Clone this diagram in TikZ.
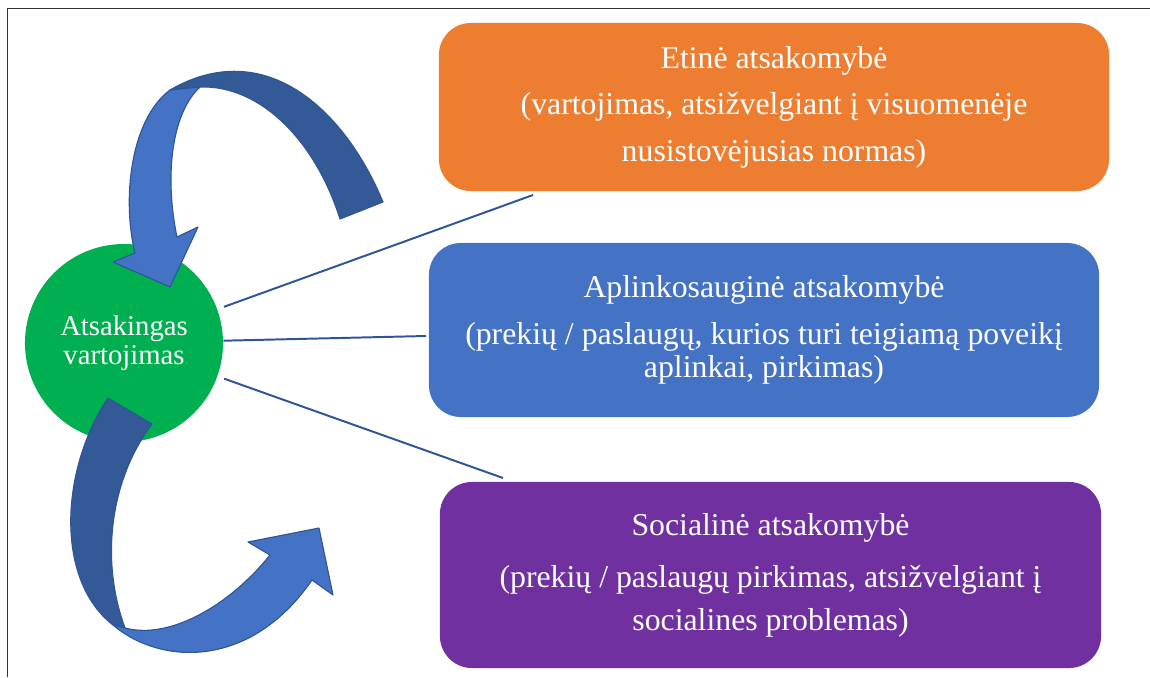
\documentclass[tikz,border=0pt]{standalone}
\usepackage{fontspec}
\setmainfont{Liberation Serif}
\definecolor{orng}{HTML}{ED7D31}
\definecolor{blu}{HTML}{4472C4}
\definecolor{purp}{HTML}{7030A0}
\definecolor{grn}{HTML}{00B050}
\definecolor{dblu}{HTML}{2F5597}
\definecolor{rearblu}{HTML}{335A96}
\begin{document}
\begin{tikzpicture}[x=0.025cm, y=-0.025cm,
    box/.style={rounded corners=0.8cm, text=white, align=center, inner sep=0pt,
      font=\fontsize{22.6}{33}\selectfont},
    link/.style={dblu, line width=1.4pt},
    front/.style={fill=blu, draw=dblu, line width=0.8pt, line join=round},
    rear/.style={fill=rearblu, draw=dblu, line width=0.8pt, line join=round}]
  \useasboundingbox (0,0) rectangle (1150,677);
  \draw[black!80, line width=0.6pt] (7,677) -- (7,8) -- (1150,8);

  \node (eth) [box, fill=orng, minimum width=16.75cm, minimum height=4.2cm] at (774,107)
    {Etinė atsakomybė\\(vartojimas, atsižvelgiant į visuomenėje\\nusistovėjusias normas)};
  \node (env) [box, fill=blu, minimum width=16.75cm, minimum height=4.35cm] at (764,330)
    {Aplinkosauginė atsakomybė\\(prekių / paslaugų, kurios turi teigiamą poveikį\\[-9.5pt]aplinkai, pirkimas)};
  \node (soc) [box, fill=purp, minimum width=16.525cm, minimum height=4.65cm] at (770.5,575)
    {Socialinė atsakomybė\\[4pt](prekių / paslaugų pirkimas, atsižvelgiant į\\[-2.4pt]socialines problemas)};
  \node (resp) [circle, fill=grn, minimum size=4.95cm, inner sep=0pt, text=white, align=center,
    font=\fontsize{20.4}{21}\selectfont] at (124,343) {Atsakingas\\vartojimas};

  \coordinate (e1) at (533,195);
  \coordinate (e2) at (426,336);
  \coordinate (e3) at (503,478);
  \draw[link, shorten <=5pt] (resp) -- (e1);
  \draw[link] (resp) -- (e2);
  \draw[link, shorten <=5pt] (resp) -- (e3);

  \filldraw[rear] (340,219) -- (383,202) .. controls (345,110) and (265,35) .. (170,90)
    -- (200,87) .. controls (260,85) and (315,140) .. (340,219) -- cycle;
  \filldraw[front] (170,90) .. controls (130,120) and (122,200) .. (135,253)
    -- (113,262) -- (170,287) -- (198,227) -- (177,237)
    .. controls (165,180) and (170,115) .. (200,87) -- cycle;

  \filldraw[rear] (108,398) .. controls (60,470) and (55,580) .. (113,625)
    -- (125,628) .. controls (100,560) and (110,480) .. (152,424) -- cycle;
  \filldraw[front] (113,625) .. controls (160,665) and (250,670) .. (312,580)
    -- (333,595) -- (319,528) -- (248,542) -- (270,555)
    .. controls (230,605) and (170,640) .. (125,628) -- cycle;
\end{tikzpicture}
\end{document}
